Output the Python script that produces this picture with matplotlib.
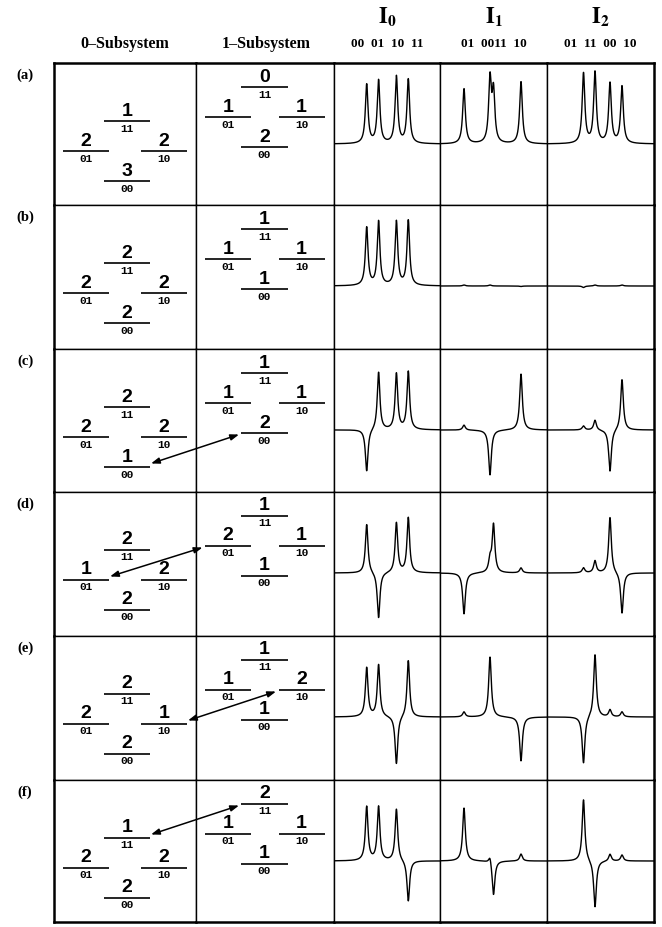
import matplotlib.pyplot as plt
from matplotlib.patches import ConnectionPatch
import numpy as np

plt.rcParams['mathtext.fontset'] = 'stix'

# figure size and table grid, in pixels
W, H = 662, 927
COL_EDGES = [54, 196, 334, 440, 547, 654]
ROW_EDGES = [63, 205, 349, 492, 636, 780, 922]

row_labels = ['(a)', '(b)', '(c)', '(d)', '(e)', '(f)']

# energy levels, order: 11, 01, 10, 00
level_names = ['11', '01', '10', '00']
pop_sub0 = [[1, 2, 2, 3],
            [2, 2, 2, 2],
            [2, 2, 2, 1],
            [2, 1, 2, 2],
            [2, 2, 1, 2],
            [1, 2, 2, 2]]
pop_sub1 = [[0, 1, 1, 2],
            [1, 1, 1, 1],
            [1, 1, 1, 2],
            [1, 2, 1, 1],
            [1, 1, 2, 1],
            [2, 1, 1, 1]]
# level exchanged between the two subsystems in each row
swapped = [None, None, '00', '01', '10', '11']

# spectra: line positions (freq. units) and intensities per row
spec_titles = [r'$\mathbf{I}_\mathbf{0}$', r'$\mathbf{I}_\mathbf{1}$', r'$\mathbf{I}_\mathbf{2}$']
spec_ticks = ['00  01  10  11', '01  0011  10', '01  11  00  10']
pos_I0 = [33, 45, 63, 75]
pos_I1 = [24, 50, 53.5, 81]
pos_I2 = [36.5, 48, 63, 75]
amp_I0 = [[59, 63, 67, 64],
          [58, 64, 64, 65],
          [-42, 58, 56, 58],
          [49, -46, 50, 55],
          [49, 52, -48, 57],
          [54, 54, 52, -41]]
amp_I1 = [[55, 63, 50, 62],
          [1, 1, 0, -0.5],
          [5, -45, 0, 56],
          [-41, 12, 48, 5],
          [5, 60, 0, -44],
          [53, 8, -35, 7]]
amp_I2 = [[70, 71, 60, 57],
          [-1.5, 1, 0, 1],
          [4, 10, -42, 51],
          [5, 12, 56, -41],
          [-47, 63, 7, 5],
          [62, -47, 7, 6]]

spec_pos = [pos_I0, pos_I1, pos_I2]
spec_amp = [amp_I0, amp_I1, amp_I2]

LW = 1.6  # half width of the lines
freq = np.linspace(0, 107, 1500)


def spectrum(pos, amp):
    y = np.zeros_like(freq)
    for p, a in zip(pos, amp):
        y += a * LW**2 / ((freq - p)**2 + LW**2)
    return y


fig = plt.figure(figsize=(W / 100, H / 100), dpi=100)


def cell_axes(c, r):
    x0, x1 = COL_EDGES[c], COL_EDGES[c + 1]
    y0, y1 = ROW_EDGES[r], ROW_EDGES[r + 1]
    ax = fig.add_axes([x0 / W, 1 - y1 / H, (x1 - x0) / W, (y1 - y0) / H])
    ax.set_xticks([])
    ax.set_yticks([])
    for side in ax.spines:
        ax.spines[side].set_linewidth(1.0)
    if c == 0:
        ax.spines['left'].set_linewidth(1.8)
    if c == len(COL_EDGES) - 2:
        ax.spines['right'].set_linewidth(1.8)
    if r == 0:
        ax.spines['top'].set_linewidth(1.8)
    if r == len(ROW_EDGES) - 2:
        ax.spines['bottom'].set_linewidth(1.8)
    return ax


# level layout inside a diagram cell: (x centre, y) in cell pixels
lay0 = {'11': (73, 58), '01': (32, 88), '10': (110, 88), '00': (73, 118)}
lay1 = {'11': (68.5, 24), '01': (32, 54), '10': (105.5, 54), '00': (68.5, 84)}
HALF = 23


def draw_levels(ax, lay, pops, width, height):
    ax.set_xlim(0, width)
    ax.set_ylim(height, 0)
    for name, n in zip(level_names, pops):
        xc, y = lay[name]
        ax.plot([xc - HALF, xc + HALF], [y, y], color='black', lw=1.2,
                solid_capstyle='butt')
        ax.text(xc, y - 1.5, str(n), ha='center', va='bottom', fontsize=14,
                fontweight='bold', family='Liberation Sans')
        ax.text(xc, y + 2.5, name, ha='center', va='top', fontsize=8,
                fontweight='bold', family='Liberation Mono')


for r in range(6):
    rh = ROW_EDGES[r + 1] - ROW_EDGES[r]
    ax0 = cell_axes(0, r)
    draw_levels(ax0, lay0, pop_sub0[r], COL_EDGES[1] - COL_EDGES[0], rh)
    ax1 = cell_axes(1, r)
    draw_levels(ax1, lay1, pop_sub1[r], COL_EDGES[2] - COL_EDGES[1], rh)

    lev = swapped[r]
    if lev is not None:
        xa, ya = lay0[lev]
        xb, yb = lay1[lev]
        con = ConnectionPatch(xyA=(xa + HALF + 1, ya - 3.5), coordsA=ax0.transData,
                              xyB=(xb - HALF - 2.5, yb + 1.5), coordsB=ax1.transData,
                              arrowstyle='<|-|>,head_length=0.5,head_width=0.18',
                              color='black', lw=1.1, shrinkA=0, shrinkB=0)
        fig.add_artist(con)

    for k in range(3):
        ax = cell_axes(2 + k, r)
        ax.plot(freq, spectrum(spec_pos[k], spec_amp[k][r]), color='black', lw=1.0)
        ax.set_xlim(0, 107)
        ax.set_ylim(81 - rh, 81)

    fig.text(25 / W, 1 - (ROW_EDGES[r] + 12) / H, row_labels[r], ha='center',
             va='center', fontsize=10.5, fontweight='bold', family='Liberation Serif')

# column headers
fig.text(125 / W, 1 - 44 / H, '0\u2013Subsystem', ha='center', va='center',
         fontsize=11.5, fontweight='bold', family='Liberation Serif')
fig.text(266 / W, 1 - 44 / H, '1\u2013Subsystem', ha='center', va='center',
         fontsize=11.5, fontweight='bold', family='Liberation Serif')
for k in range(3):
    xc = (COL_EDGES[2 + k] + COL_EDGES[3 + k]) / 2
    fig.text(xc / W, 1 - 17 / H, spec_titles[k], ha='center', va='center',
             fontsize=16)
    fig.text(xc / W, 1 - 44 / H, spec_ticks[k], ha='center', va='center',
             fontsize=9.5, fontweight='bold', family='Liberation Serif')

fig.savefig('out.png', dpi=100)
